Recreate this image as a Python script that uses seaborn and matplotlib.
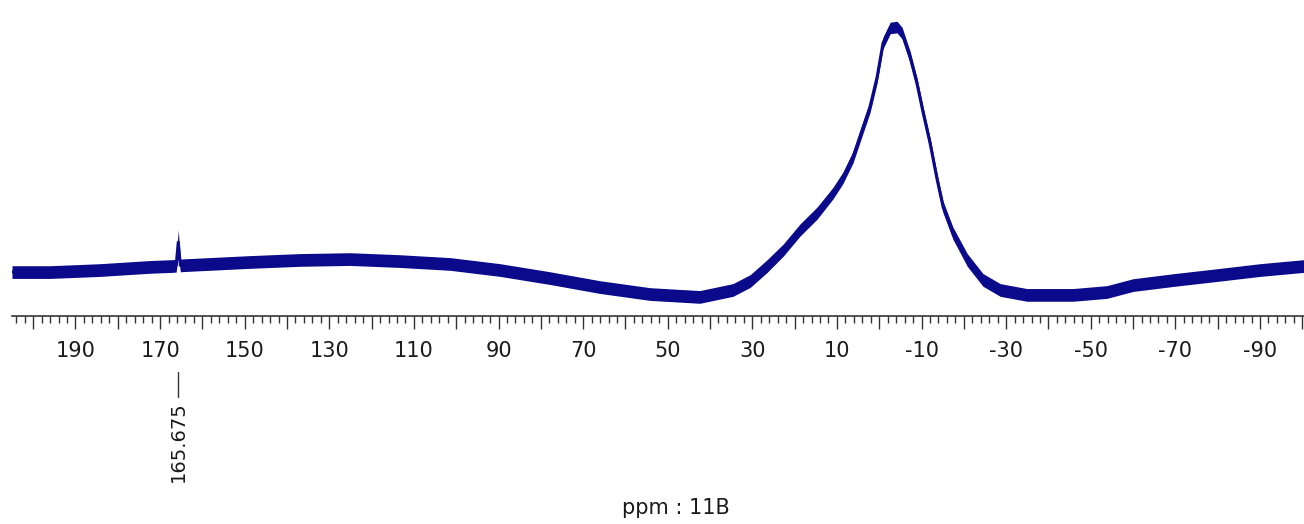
import numpy as np
import pandas as pd
import matplotlib
matplotlib.use("Agg")
import matplotlib.pyplot as plt
import matplotlib.transforms as mtransforms
from matplotlib.ticker import MultipleLocator
import seaborn as sns

# --- data (ppm, intensity in arbitrary units, peak ~100) ---
ppm = [205.0, 196.0, 184.2, 172.3, 167.1, 166.2, 165.7, 165.2, 164.1, 148.7,
       136.9, 125.1, 113.3, 101.4, 89.6, 77.8, 66.0, 54.2, 42.4, 34.6,
       30.5, 26.5, 22.7, 18.7, 14.7, 10.9, 8.6, 6.2, 3.8, 2.2,
       0.5, -0.9, -2.6, -4.2, -5.4, -7.3, -8.9, -10.4, -12.0, -13.7,
       -15.1, -17.4, -20.8, -24.5, -28.6, -34.9, -45.8, -53.8, -60.0, -69.9,
       -80.1, -90.0, -100.4]
intensity = [15.2, 15.2, 15.9, 17.0, 17.3, 17.4, 25.5, 17.5, 17.6, 18.7,
             19.4, 19.7, 19.0, 18.0, 15.9, 13.1, 10.0, 7.6, 6.6, 9.0,
             12.1, 17.3, 22.8, 29.8, 35.6, 42.6, 47.8, 55.0, 65.4, 72.3,
             82.7, 94.5, 99.7, 100.0, 97.9, 89.6, 80.6, 70.2, 59.9, 47.1,
             37.7, 28.7, 19.4, 12.5, 9.0, 7.3, 7.3, 8.3, 10.7, 12.5,
             14.2, 15.9, 17.3]
# half-width of the noise band around the trace
noise = [2.2, 2.2, 2.2, 2.2, 2.2, 2.2, 4.3, 2.2, 2.2, 2.2,
         2.2, 2.2, 2.2, 2.2, 2.2, 2.2, 2.2, 2.2, 2.2, 2.2,
         2.2, 2.2, 2.1, 2.1, 2.1, 2.0, 2.0, 2.0, 2.0, 2.0,
         2.0, 2.0, 2.0, 2.0, 2.0, 2.0, 2.0, 2.0, 2.0, 2.0,
         2.0, 2.1, 2.2, 2.2, 2.2, 2.2, 2.2, 2.2, 2.2, 2.2,
         2.2, 2.2, 2.2]

tick_values = [190, 170, 150, 130, 110, 90, 70, 50, 30, 10, -10, -30, -50, -70, -90]
tick_labels = ["190", "170", "150", "130", "110", "90", "70", "50", "30", "10",
               "-10", "-30", "-50", "-70", "-90"]
peak_label = "165.675"
peak_pos = 165.675
axis_title = "ppm : 11B"

df = pd.DataFrame({"ppm": ppm, "intensity": intensity, "noise": noise})
df["lo"] = df["intensity"] - df["noise"]
df["hi"] = df["intensity"] + df["noise"]

sns.set_theme(style="white")
plt.rcParams["font.family"] = ["DejaVu Sans"]

color = "#0a0a8a"
fig = plt.figure(figsize=(13.04, 5.24), dpi=100)
ax = fig.add_axes([12 / 1304, 1 - 316 / 524, 1 - 12 / 1304, (316 - 10) / 524])

ax.fill_between(df["ppm"], df["lo"], df["hi"], color=color, linewidth=0)
sns.lineplot(data=df, x="ppm", y="intensity", ax=ax, color=color, linewidth=2.2,
             sort=False, estimator=None)

ax.set_xlim(205, -100.4)
ax.set_ylim(0, 105.9)
ax.set_xlabel("")
ax.set_ylabel("")
ax.set_yticks([])

for s in ["left", "right", "top"]:
    ax.spines[s].set_visible(False)
ax.spines["bottom"].set_color("#333333")
ax.spines["bottom"].set_linewidth(1.2)

major = list(range(200, -101, -10))
label_map = dict(zip(tick_values, tick_labels))
ax.set_xticks(major)
ax.set_xticklabels([label_map.get(v, "") for v in major])
ax.xaxis.set_minor_locator(MultipleLocator(2))
ax.tick_params(axis="x", which="major", direction="out", length=9, width=1.0,
               color="#333333", labelsize=15, labelcolor="#1a1a1a", pad=9, bottom=True)
ax.tick_params(axis="x", which="minor", direction="out", length=5, width=1.0,
               color="#333333", bottom=True)

trans = mtransforms.blended_transform_factory(ax.transData, ax.transAxes)
ax.plot([peak_pos, peak_pos], [-0.183, -0.265], color="#333333", linewidth=1.0,
        transform=trans, clip_on=False)
ax.text(peak_pos, -0.280, peak_label, rotation=90, ha="center", va="top",
        fontsize=14, color="#1a1a1a", transform=trans, clip_on=False)

fig.text(676 / 1304, 1 - 508 / 524, axis_title, ha="center", va="center",
         fontsize=15, color="#1a1a1a")

fig.savefig("out.png", dpi=100)
